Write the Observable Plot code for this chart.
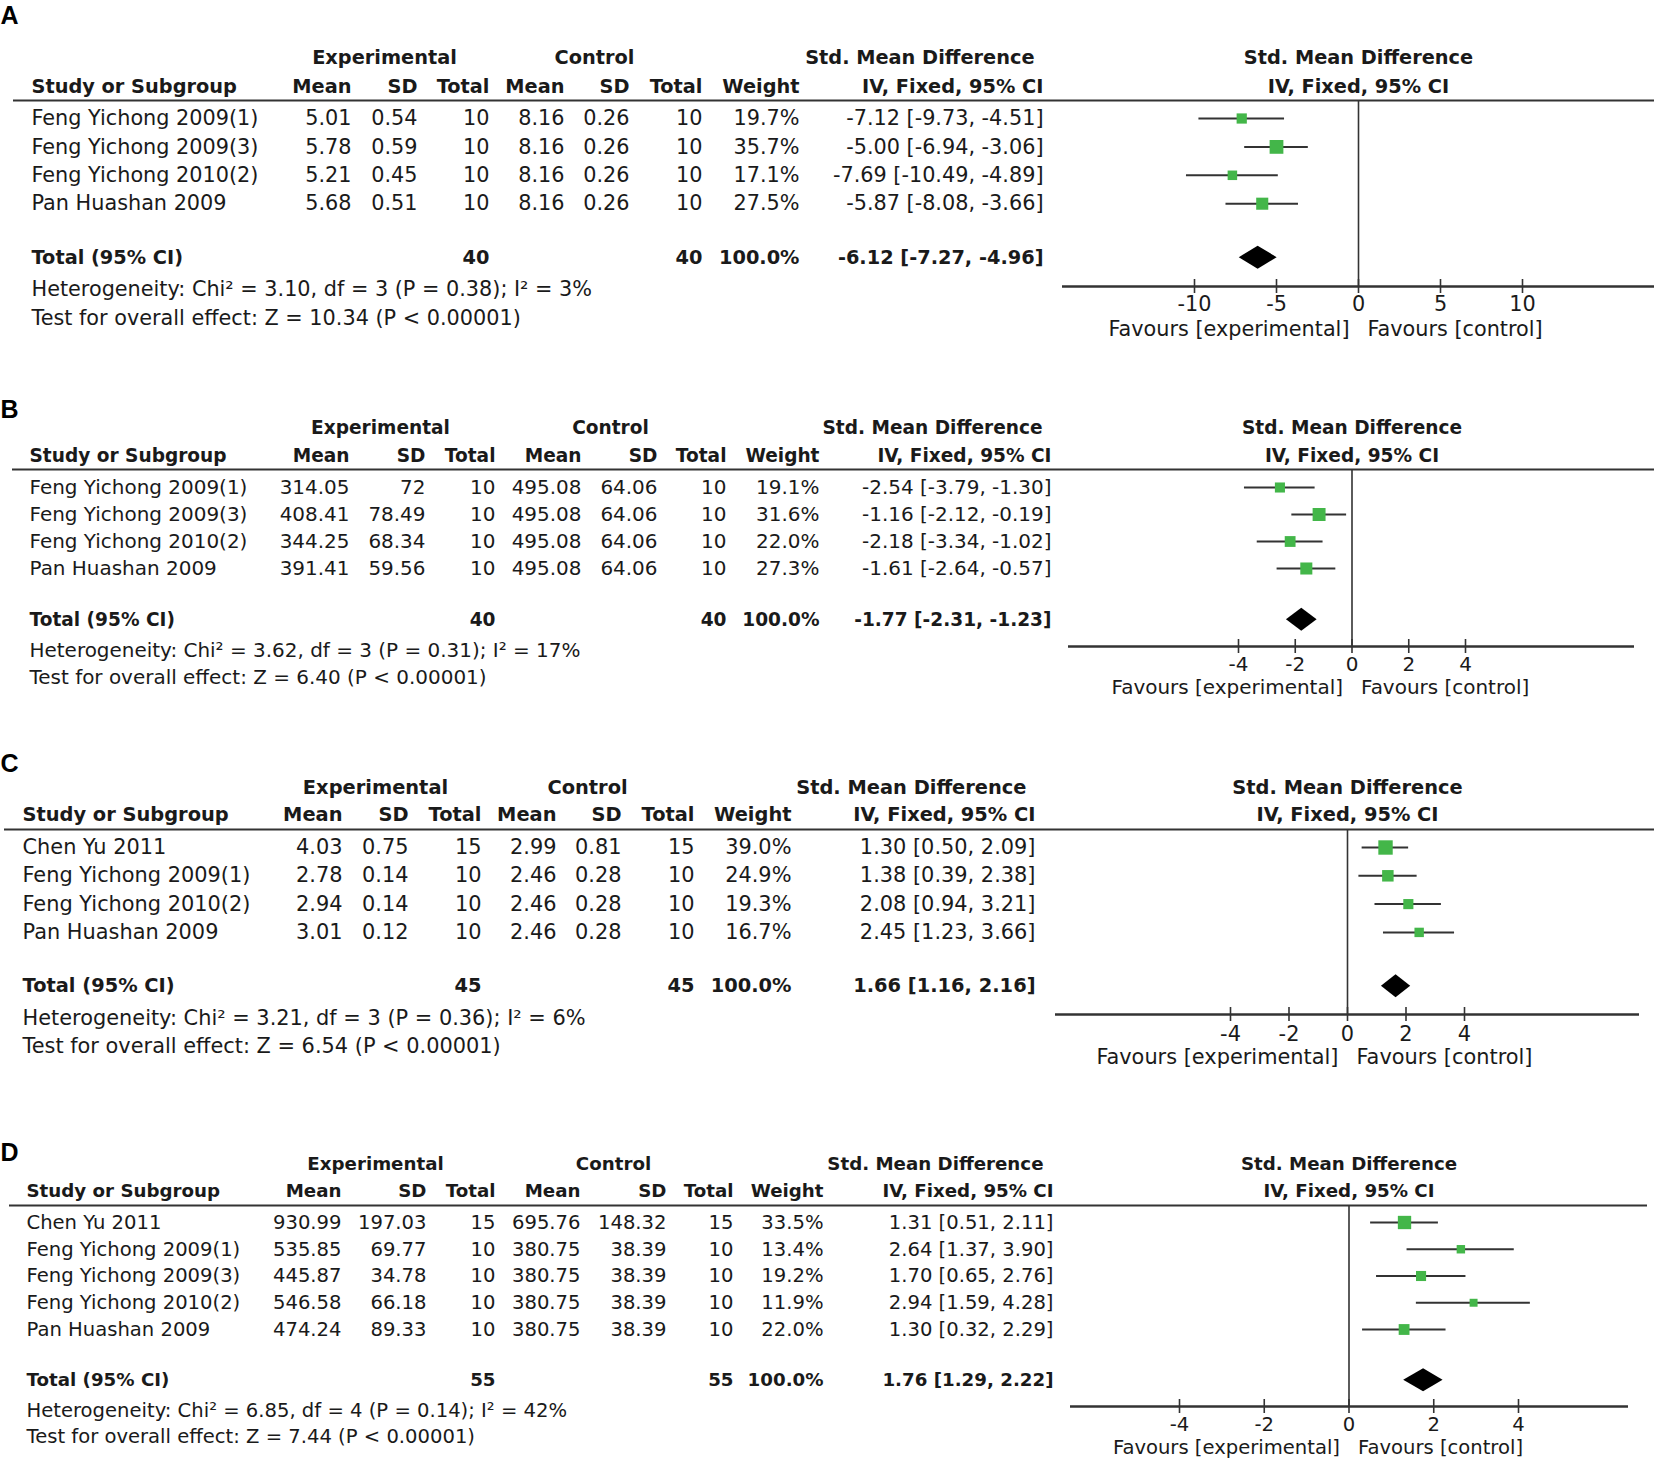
<!DOCTYPE html>
<html><head><meta charset="utf-8">
<script src="https://cdn.jsdelivr.net/npm/d3@7"></script>
<script src="https://cdn.jsdelivr.net/npm/@observablehq/plot@0.6"></script>
<style>
body{margin:0;background:#fff;}
#chart{width:1654px;}
#chart svg{display:block;}
</style></head><body><div id="chart"></div>
<script>
// ---------------- Panel A ----------------
const studiesA = ["Feng Yichong 2009(1)","Feng Yichong 2009(3)","Feng Yichong 2010(2)","Pan Huashan 2009"];
const expMeanA = ["5.01","5.78","5.21","5.68"];
const expSdA   = ["0.54","0.59","0.45","0.51"];
const expNA    = [10,10,10,10];
const ctlMeanA = ["8.16","8.16","8.16","8.16"];
const ctlSdA   = ["0.26","0.26","0.26","0.26"];
const ctlNA    = [10,10,10,10];
const weightA  = [19.7,35.7,17.1,27.5];
const smdA     = [-7.12,-5.00,-7.69,-5.87];
const lowA     = [-9.73,-6.94,-10.49,-8.08];
const highA    = [-4.51,-3.06,-4.89,-3.66];
const totalA   = {expN:40, ctlN:40, smd:-6.12, low:-7.27, high:-4.96};
const hetA     = "Heterogeneity: Chi\u00B2 = 3.10, df = 3 (P = 0.38); I\u00B2 = 3%";
const testA    = "Test for overall effect: Z = 10.34 (P < 0.00001)";
const ticksA   = [-10,-5,0,5,10];
const domainA  = [-10,10];

// ---------------- Panel B ----------------
const studiesB = ["Feng Yichong 2009(1)","Feng Yichong 2009(3)","Feng Yichong 2010(2)","Pan Huashan 2009"];
const expMeanB = ["314.05","408.41","344.25","391.41"];
const expSdB   = ["72","78.49","68.34","59.56"];
const expNB    = [10,10,10,10];
const ctlMeanB = ["495.08","495.08","495.08","495.08"];
const ctlSdB   = ["64.06","64.06","64.06","64.06"];
const ctlNB    = [10,10,10,10];
const weightB  = [19.1,31.6,22.0,27.3];
const smdB     = [-2.54,-1.16,-2.18,-1.61];
const lowB     = [-3.79,-2.12,-3.34,-2.64];
const highB    = [-1.30,-0.19,-1.02,-0.57];
const totalB   = {expN:40, ctlN:40, smd:-1.77, low:-2.31, high:-1.23};
const hetB     = "Heterogeneity: Chi\u00B2 = 3.62, df = 3 (P = 0.31); I\u00B2 = 17%";
const testB    = "Test for overall effect: Z = 6.40 (P < 0.00001)";
const ticksB   = [-4,-2,0,2,4];
const domainB  = [-4,4];

// ---------------- Panel C ----------------
const studiesC = ["Chen Yu 2011","Feng Yichong 2009(1)","Feng Yichong 2010(2)","Pan Huashan 2009"];
const expMeanC = ["4.03","2.78","2.94","3.01"];
const expSdC   = ["0.75","0.14","0.14","0.12"];
const expNC    = [15,10,10,10];
const ctlMeanC = ["2.99","2.46","2.46","2.46"];
const ctlSdC   = ["0.81","0.28","0.28","0.28"];
const ctlNC    = [15,10,10,10];
const weightC  = [39.0,24.9,19.3,16.7];
const smdC     = [1.30,1.38,2.08,2.45];
const lowC     = [0.50,0.39,0.94,1.23];
const highC    = [2.09,2.38,3.21,3.66];
const totalC   = {expN:45, ctlN:45, smd:1.66, low:1.16, high:2.16};
const hetC     = "Heterogeneity: Chi\u00B2 = 3.21, df = 3 (P = 0.36); I\u00B2 = 6%";
const testC    = "Test for overall effect: Z = 6.54 (P < 0.00001)";
const ticksC   = [-4,-2,0,2,4];
const domainC  = [-4,4];

// ---------------- Panel D ----------------
const studiesD = ["Chen Yu 2011","Feng Yichong 2009(1)","Feng Yichong 2009(3)","Feng Yichong 2010(2)","Pan Huashan 2009"];
const expMeanD = ["930.99","535.85","445.87","546.58","474.24"];
const expSdD   = ["197.03","69.77","34.78","66.18","89.33"];
const expND    = [15,10,10,10,10];
const ctlMeanD = ["695.76","380.75","380.75","380.75","380.75"];
const ctlSdD   = ["148.32","38.39","38.39","38.39","38.39"];
const ctlND    = [15,10,10,10,10];
const weightD  = [33.5,13.4,19.2,11.9,22.0];
const smdD     = [1.31,2.64,1.70,2.94,1.30];
const lowD     = [0.51,1.37,0.65,1.59,0.32];
const highD    = [2.11,3.90,2.76,4.28,2.29];
const totalD   = {expN:55, ctlN:55, smd:1.76, low:1.29, high:2.22};
const hetD     = "Heterogeneity: Chi\u00B2 = 6.85, df = 4 (P = 0.14); I\u00B2 = 42%";
const testD    = "Test for overall effect: Z = 7.44 (P < 0.00001)";
const ticksD   = [-4,-2,0,2,4];
const domainD  = [-4,4];

// ---------------- layout (pixels) ----------------
const layoutA = {letter:"A", h:370, letterY:15, h1Y:57, h2Y:86, hdrRule:100, hdrRuleX:[13,1654], y0:118, dy:28.4, hetY:289, testY:318,
  axisY:286, axisX:[1062,1654], xRange:[1194,1522], favY:329, tickOff:17,
  cols:{study:31, expMean:351, expSd:417, expN:489, ctlMean:564, ctlSd:629, ctlN:702, weight:799, ci:1043, smdHead:1034},
  expCenter:384, ctlCenter:594, nameWidth:227};
const layoutB = {letter:"B", h:370, letterY:39, h1Y:58, h2Y:86, hdrRule:99, hdrRuleX:[12,1654], y0:117, dy:27, hetY:280, testY:307,
  axisY:276, axisX:[1068,1634], xRange:[1238,1465], favY:317, tickOff:17,
  cols:{study:29, expMean:349, expSd:425, expN:495, ctlMean:581, ctlSd:657, ctlN:726, weight:819, ci:1051, smdHead:1042},
  expCenter:380, ctlCenter:610, nameWidth:218};
const layoutC = {letter:"C", h:370, letterY:23, h1Y:47, h2Y:74, hdrRule:89, hdrRuleX:[4,1654], y0:107, dy:28.3, hetY:278, testY:306,
  axisY:274, axisX:[1055,1639], xRange:[1230,1464], favY:317, tickOff:19,
  cols:{study:22, expMean:342, expSd:408, expN:481, ctlMean:556, ctlSd:621, ctlN:694, weight:791, ci:1035, smdHead:1026},
  expCenter:375, ctlCenter:587, nameWidth:228};
const layoutD = {letter:"D", h:363, letterY:42, h1Y:54, h2Y:81, hdrRule:95, hdrRuleX:[9,1647], y0:112, dy:26.75, hetY:300, testY:326,
  axisY:296, axisX:[1070,1628], xRange:[1179,1518], favY:337, tickOff:17,
  cols:{study:26, expMean:341, expSd:426, expN:495, ctlMean:580, ctlSd:666, ctlN:733, weight:823, ci:1053, smdHead:1043},
  expCenter:375, ctlCenter:613, nameWidth:214};

const FAMILY = "DejaVu Sans";
const FONT = '"DejaVu Sans", sans-serif';
const BOLD_SCALE = 0.93;
const INK = "#1a1a1a";
const LINE = "#333333";
const GREEN = "#43b649";

const ctx = document.createElement("canvas").getContext("2d");
function measure(s, weight) { ctx.font = `${weight} 100px "${FAMILY}"`; return ctx.measureText(s).width / 100; }
const num = v => (v < 0 ? "-" : "") + Math.abs(v).toFixed(2);
const ciText = (m, lo, hi) => `${num(m)} [${num(lo)}, ${num(hi)}]`;

function panel(d, L) {
  const n = d.studies.length;
  const fs = L.nameWidth / measure("Feng Yichong 2009(1)", "normal");
  const fb = fs * BOLD_SCALE;
  const rows = d.studies.map((s, i) => ({i, study: s, expMean: d.expMean[i], expSd: d.expSd[i], expN: d.expN[i],
    ctlMean: d.ctlMean[i], ctlSd: d.ctlSd[i], ctlN: d.ctlN[i], weight: d.weight[i], smd: d.smd[i], low: d.low[i], high: d.high[i]}));
  const tRow = n - 1 + 1.9;
  const totals = [{i: tRow, ...d.total}];
  const rowOf = px => (px - L.y0) / L.dy;
  const inv = d3.scaleLinear(d.domain, L.xRange).invert;
  const half = 11.5 / L.dy;
  const diamond = [
    {x: d.total.low, y1: tRow, y2: tRow},
    {x: d.total.smd, y1: tRow - half, y2: tRow + half},
    {x: d.total.high, y1: tRow, y2: tRow}
  ];
  const C = L.cols;
  const col = (data, text, dx, extra = {}) => Plot.text(data, {y: "i", frameAnchor: "left", dx, text, textAnchor: "end", lineAnchor: "middle", fontSize: fs, fill: INK, ...extra});
  const head = (label, dx, dy, anchor, extra = {}) => Plot.text([label], {frameAnchor: "top-left", lineAnchor: "middle", dx, dy, text: t => t, textAnchor: anchor, fontWeight: "bold", fontSize: fb, fill: INK, ...extra});
  const axisRow = rowOf(L.axisY);

  return Plot.plot({
    width: 1654, height: L.h,
    marginTop: 0, marginLeft: 0, marginRight: 0, marginBottom: L.h - L.axisY,
    x: {domain: d.domain, range: L.xRange},
    y: {domain: [0, 1], range: [L.y0, L.y0 + L.dy], axis: null},
    r: {type: "sqrt", domain: [0, 100], range: [0, 13]},
    style: {fontFamily: FONT, color: INK, background: "white", overflow: "visible"},
    marks: [
      // panel letter
      Plot.text([L.letter], {frameAnchor: "top-left", lineAnchor: "middle", dx: 0, dy: L.letterY, text: t => t, textAnchor: "start", fontWeight: "bold", fontSize: 25, fontFamily: "Liberation Sans, Arial, sans-serif", fill: "#000"}),
      // header rows
      head("Experimental", L.expCenter, L.h1Y, "middle"),
      head("Control", L.ctlCenter, L.h1Y, "middle"),
      head("Std. Mean Difference", C.smdHead, L.h1Y, "end"),
      head("Study or Subgroup", C.study, L.h2Y, "start"),
      head("Mean", C.expMean, L.h2Y, "end"),
      head("SD", C.expSd, L.h2Y, "end"),
      head("Total", C.expN, L.h2Y, "end"),
      head("Mean", C.ctlMean, L.h2Y, "end"),
      head("SD", C.ctlSd, L.h2Y, "end"),
      head("Total", C.ctlN, L.h2Y, "end"),
      head("Weight", C.weight, L.h2Y, "end"),
      head("IV, Fixed, 95% CI", C.ci, L.h2Y, "end"),
      Plot.text([0], {x: v => v, frameAnchor: "top", lineAnchor: "middle", dy: L.h1Y, text: () => "Std. Mean Difference", fontWeight: "bold", fontSize: fb, fill: INK}),
      Plot.text([0], {x: v => v, frameAnchor: "top", lineAnchor: "middle", dy: L.h2Y, text: () => "IV, Fixed, 95% CI", fontWeight: "bold", fontSize: fb, fill: INK}),
      // rule under the header
      Plot.ruleY([rowOf(L.hdrRule)], {x1: inv(L.hdrRuleX[0]), x2: inv(L.hdrRuleX[1]), stroke: LINE, strokeWidth: 2}),
      // study rows
      col(rows, "study", C.study, {textAnchor: "start"}),
      col(rows, "expMean", C.expMean),
      col(rows, "expSd", C.expSd),
      col(rows, "expN", C.expN),
      col(rows, "ctlMean", C.ctlMean),
      col(rows, "ctlSd", C.ctlSd),
      col(rows, "ctlN", C.ctlN),
      col(rows, r => r.weight.toFixed(1) + "%", C.weight),
      col(rows, r => ciText(r.smd, r.low, r.high), C.ci),
      // total row
      col(totals, () => "Total (95% CI)", C.study, {textAnchor: "start", fontWeight: "bold", fontSize: fb}),
      col(totals, "expN", C.expN, {fontWeight: "bold", fontSize: fb}),
      col(totals, "ctlN", C.ctlN, {fontWeight: "bold", fontSize: fb}),
      col(totals, () => "100.0%", C.weight, {fontWeight: "bold", fontSize: fb}),
      col(totals, r => ciText(r.smd, r.low, r.high), C.ci, {fontWeight: "bold", fontSize: fb}),
      // footnotes
      head(d.het, C.study, L.hetY, "start", {fontWeight: "normal", fontSize: fs}),
      head(d.test, C.study, L.testY, "start", {fontWeight: "normal", fontSize: fs}),
      // forest plot
      Plot.ruleX([0], {y1: rowOf(L.hdrRule), y2: axisRow, stroke: LINE, strokeWidth: 1.6}),
      Plot.ruleY([axisRow], {x1: inv(L.axisX[0]), x2: inv(L.axisX[1]), stroke: LINE, strokeWidth: 2.4}),
      Plot.ruleX(d.ticks, {x: v => v, y1: axisRow, y2: axisRow, insetTop: -7, insetBottom: -7, stroke: LINE, strokeWidth: 1.6}),
      Plot.axisX(d.ticks, {anchor: "bottom", tickSize: 0, tickPadding: L.tickOff - 0.35 * fs, tickFormat: v => String(v), fontSize: fs, fill: INK, label: null}),
      Plot.ruleY(rows, {y: "i", x1: "low", x2: "high", stroke: LINE, strokeWidth: 2}),
      Plot.dot(rows, {x: "smd", y: "i", r: "weight", symbol: "square", fill: GREEN, stroke: null}),
      Plot.areaY(diamond, {x: "x", y1: "y1", y2: "y2", fill: "#000", curve: "linear"}),
      Plot.text([0], {x: v => v, frameAnchor: "top", lineAnchor: "middle", dy: L.favY, dx: -9, textAnchor: "end", text: () => "Favours [experimental]", fontSize: fs, fill: INK}),
      Plot.text([0], {x: v => v, frameAnchor: "top", lineAnchor: "middle", dy: L.favY, dx: 9, textAnchor: "start", text: () => "Favours [control]", fontSize: fs, fill: INK})
    ]
  });
}

const panels = [
  [{studies: studiesA, expMean: expMeanA, expSd: expSdA, expN: expNA, ctlMean: ctlMeanA, ctlSd: ctlSdA, ctlN: ctlNA,
    weight: weightA, smd: smdA, low: lowA, high: highA, total: totalA, het: hetA, test: testA, ticks: ticksA, domain: domainA}, layoutA],
  [{studies: studiesB, expMean: expMeanB, expSd: expSdB, expN: expNB, ctlMean: ctlMeanB, ctlSd: ctlSdB, ctlN: ctlNB,
    weight: weightB, smd: smdB, low: lowB, high: highB, total: totalB, het: hetB, test: testB, ticks: ticksB, domain: domainB}, layoutB],
  [{studies: studiesC, expMean: expMeanC, expSd: expSdC, expN: expNC, ctlMean: ctlMeanC, ctlSd: ctlSdC, ctlN: ctlNC,
    weight: weightC, smd: smdC, low: lowC, high: highC, total: totalC, het: hetC, test: testC, ticks: ticksC, domain: domainC}, layoutC],
  [{studies: studiesD, expMean: expMeanD, expSd: expSdD, expN: expND, ctlMean: ctlMeanD, ctlSd: ctlSdD, ctlN: ctlND,
    weight: weightD, smd: smdD, low: lowD, high: highD, total: totalD, het: hetD, test: testD, ticks: ticksD, domain: domainD}, layoutD]
];

const host = document.getElementById("chart");
for (const [d, L] of panels) host.appendChild(panel(d, L));
</script>
</body></html>
